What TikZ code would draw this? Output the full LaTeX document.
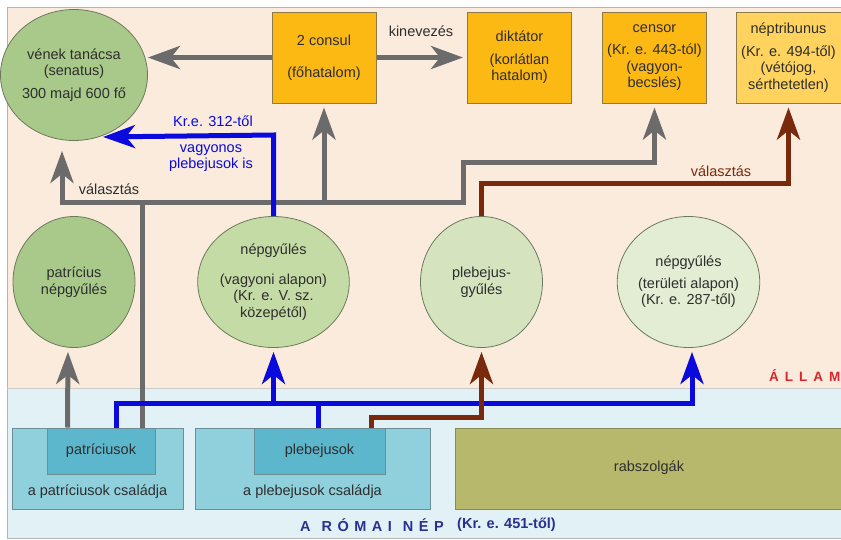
\documentclass[tikz,border=0pt]{standalone}
\usepackage{fontspec}
\setmainfont{Liberation Sans}
\usetikzlibrary{arrows.meta,shapes.geometric,calc}
\definecolor{peach}{HTML}{FBEBDD}
\definecolor{pale}{HTML}{E1F1F6}
\definecolor{gold}{HTML}{FDB913}
\definecolor{lgold}{HTML}{FFD35E}
\definecolor{boxb}{HTML}{8C7A4A}
\definecolor{gA}{HTML}{A8C98A}
\definecolor{gB}{HTML}{C5DBA6}
\definecolor{gC}{HTML}{D5E4BF}
\definecolor{gD}{HTML}{E3EDD4}
\definecolor{circb}{HTML}{6B7A5C}
\definecolor{glc}{HTML}{6B6B6B}
\definecolor{blc}{HTML}{0A0ADC}
\definecolor{rlc}{HTML}{7A2A0C}
\definecolor{famc}{HTML}{8FD0DC}
\definecolor{innc}{HTML}{5CB6CC}
\definecolor{famb}{HTML}{6D8E96}
\definecolor{slavec}{HTML}{B8B86C}
\definecolor{slaveb}{HTML}{8A8A55}
\definecolor{txt}{HTML}{2E2E2E}
\definecolor{navy}{HTML}{2A3090}
\definecolor{allamred}{HTML}{D9262C}
\definecolor{frame}{HTML}{B4B4B4}
\begin{document}
\begin{tikzpicture}[x=1pt,y=-1pt,
  font=\fontsize{14.5}{16.5}\selectfont, text=txt,
  office/.style={rectangle, draw=boxb, line width=1pt, fill=gold, minimum width=104pt, minimum height=91pt, align=center, inner sep=0pt},
  circ/.style={ellipse, draw=circb, line width=0.8pt, minimum width=122pt, minimum height=131pt, inner sep=0pt, align=center},
  famstyle/.style={rectangle, draw=famb, line width=1pt, fill=famc, minimum height=81pt, inner sep=0pt},
  innstyle/.style={rectangle, draw=famb, line width=1pt, fill=innc, minimum height=46pt, inner sep=0pt},
  tip/.style={-{Stealth[length=32pt,width=23pt,inset=9pt]}},
  gl/.style={draw=glc, line width=5pt, line join=miter},
  garrow/.style={gl, tip, shorten >=4pt},
  bl/.style={draw=blc, line width=5pt, line join=miter},
  barrow/.style={bl, tip, shorten >=4pt},
  rl/.style={draw=rlc, line width=5pt, line join=miter},
  rarrow/.style={rl, tip, shorten >=4pt},
  lbl/.style={inner sep=0pt}
]
\useasboundingbox (0,0) rectangle (841,539);
\fill[white] (0,0) rectangle (841,539);
% background regions
\fill[peach] (7,7) rectangle (850,388);
\fill[pale] (7,388) rectangle (850,538);
\draw[frame, line width=1pt] (7,7) rectangle (850,538);
\draw[draw=frame!70, line width=0.8pt] (7,388) -- (850,388);

% top row
\node[circ, fill=gA] (sen) at (74,75) {vének tanácsa\\(senatus)\\[6pt]300 majd 600 fő};
\node[office] (cons) at (324,57.5) {2 consul\\[16pt](főhatalom)};
\node[office] (dikt) at (519.5,57.5) {diktátor\\[6pt](korlátlan\\hatalom)};
\node[office] (cens) at (654.5,57.5) {censor\\[6pt](Kr. e. 443-tól)\\(vagyon-\\becslés)};
\node[office, fill=lgold, minimum width=105pt] (trib) at (788.5,57.5) {néptribunus\\[6pt](Kr. e. 494-től)\\(vétójog,\\sérthetetlen)};

% assemblies
\node[circ, fill=gA] (patgy) at (74,282) {patrícius\\népgyűlés};
\node[circ, fill=gB] (nvag) at (273.5,282) {népgyűlés\\[13pt](vagyoni alapon)\\(Kr. e. V. sz.\\közepétől)};
\node[circ, fill=gC] (pleb) at (481.5,282) {plebejus-\\gyűlés};
\node[circ, fill=gD] (nter) at (688.5,282) {népgyűlés\\[5pt](területi alapon)\\(Kr. e. 287-től)};

% people
\node[famstyle, minimum width=171pt] (patfam) at (97.5,468.5) {};
\node[innstyle, minimum width=108pt] (patr) at (101,451) {patríciusok};
\node[lbl] (patfamt) at (97.5,492) {a patríciusok családja};
\node[famstyle, minimum width=235pt] (plebfam) at (312.5,468.5) {};
\node[innstyle, minimum width=131pt] (plebs) at (319.5,451) {plebejusok};
\node[lbl] (plebfamt) at (312.5,492) {a plebejusok családja};
\node[rectangle, draw=slaveb, line width=1pt, fill=slavec, minimum width=395pt, minimum height=81pt, inner sep=0pt] (rab) at (652.5,468.5) {};
\node[lbl] (rabt) at (649,468) {rabszolgák};

% grey connectors
\draw[garrow, shorten >=0pt] (cons.west) -- (cons.west -| sen.east);
\draw[garrow, shorten >=0pt] (cons.east) -- ($(dikt.west)+(-4,0)$);
\node[lbl] (kin) at (421,31) {kinevezés};

\coordinate (gv) at (62,202);
\coordinate (gp) at ($(patr.north east)+(-13,0)$);
\draw[gl] (gp) -- (gp |- gv);
\draw[garrow, shorten >=10pt] ($(gv)+(0,2.5)$) -- (gv |- sen.south);
\draw[garrow] (gv) -- (463,202) -- (463,162) -- (cens.south |- 0,162) -- (cens.south);
\draw[garrow] (cons.south |- gv) -- (cons.south);
\node[lbl] (valg) at (109,189) {választás};

\draw[garrow] ($(patr.north west)+(21,0)$) -- ($(patgy.south)+(-6,0)$);

% blue connectors
\coordinate (bp) at ($(patr.north west)+(70,0)$);
\coordinate (bq) at (plebs.north -| 318,0);
\draw[bl] (bp) -- (bp |- 0,403) -- (695,403);
\draw[bl] (bq) -- (bq |- 0,403);
\draw[barrow] (nvag.south |- 0,405.5) -- (nvag.south);
\draw[barrow] ($(nter.south |- 0,405.5)+(3.5,0)$) -- ($(nter.south)+(3.5,0)$);
\draw[barrow] (nvag.north) -- (nvag.north |- 0,135) -- (sen.-68);
\node[lbl, text=blc] (kr312) at (213,121) {Kr.e. 312-től};
\node[lbl, text=blc, align=center] (vagyonos) at (211,158) {vagyonos\\plebejusok is};

% brown connectors
\coordinate (rp) at (plebs.north -| 371,0);
\draw[rarrow] (rp) -- (rp |- 0,417) -- (pleb.south |- 0,417) -- (pleb.south);
\draw[rarrow] (pleb.north) -- (pleb.north |- 0,183) -- (trib.south |- 0,183) -- (trib.south);
\node[lbl, text=rlc] (valr) at (721,171) {választás};

% region titles
\node[lbl, anchor=west, text=allamred, font=\fontsize{13.5}{15}\selectfont\bfseries] (allam) at (769,376) {Á\hspace{6pt}L\hspace{6pt}L\hspace{6pt}A\hspace{6pt}M};
\node[lbl, anchor=west, text=navy, font=\fontsize{14.5}{16}\selectfont\bfseries] (nep) at (300,525) {A\hspace{11pt}R\hspace{5.5pt}Ó\hspace{5.5pt}M\hspace{5.5pt}A\hspace{5.5pt}I\hspace{11pt}N\hspace{5.5pt}É\hspace{5.5pt}P};
\node[lbl, anchor=west, text=navy, font=\fontsize{14.5}{16}\selectfont\bfseries] (nepdate) at (457,525) {(Kr. e. 451-től)};
\end{tikzpicture}
\end{document}
